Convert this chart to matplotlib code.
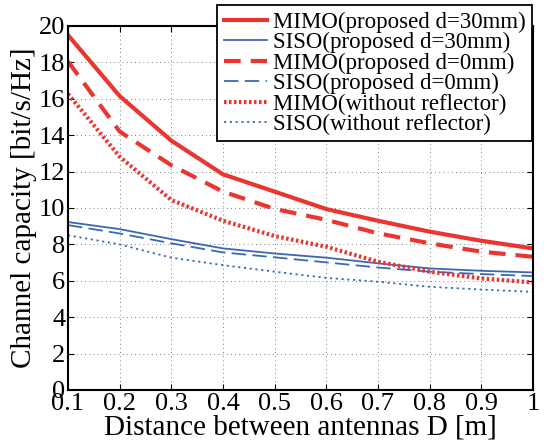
import matplotlib
matplotlib.use("Agg")
import matplotlib.pyplot as plt

plt.rcParams['font.family'] = ['Liberation Serif', 'DejaVu Serif']
plt.rcParams['mathtext.fontset'] = 'stix'

x = [0.1, 0.2, 0.3, 0.4, 0.5, 0.6, 0.7, 0.8, 0.9, 1.0]
mimo_30 = [19.5, 16.15, 13.7, 11.85, 10.9, 9.94, 9.3, 8.7, 8.2, 7.78]
siso_30 = [9.23, 8.84, 8.29, 7.78, 7.5, 7.27, 6.96, 6.68, 6.55, 6.46]
mimo_0 = [18.05, 14.2, 12.35, 10.9, 9.95, 9.35, 8.61, 8.06, 7.6, 7.32]
siso_0 = [9.06, 8.6, 8.06, 7.56, 7.29, 7.01, 6.73, 6.5, 6.37, 6.26]
mimo_wo = [16.27, 12.82, 10.44, 9.3, 8.46, 7.87, 7.05, 6.5, 6.13, 5.91]
siso_wo = [8.5, 8.0, 7.27, 6.86, 6.5, 6.16, 5.95, 5.67, 5.52, 5.39]

labels = ['MIMO(proposed d=30mm)', 'SISO(proposed d=30mm)',
          'MIMO(proposed d=0mm)', 'SISO(proposed d=0mm)',
          'MIMO(without reflector)', 'SISO(without reflector)']
xticks = [0.1, 0.2, 0.3, 0.4, 0.5, 0.6, 0.7, 0.8, 0.9, 1]
xticklabels = ['0.1', '0.2', '0.3', '0.4', '0.5', '0.6', '0.7', '0.8', '0.9', '1']
yticks = [0, 2, 4, 6, 8, 10, 12, 14, 16, 18, 20]
yticklabels = ['0', '2', '4', '6', '8', '10', '12', '14', '16', '18', '20']

red = '#ea3530'
blue = '#3a68b4'

fig = plt.figure(figsize=(5.47, 4.43), dpi=100)
ax = fig.add_axes([68/547, 53/443, 465/547, 364/443])

ax.plot(x, mimo_30, color=red, lw=3.0, ls='-', label=labels[0])
ax.plot(x, siso_30, color=blue, lw=1.3, ls='-', label=labels[1])
ax.plot(x, mimo_0, color=red, lw=3.0, ls=(0, (4, 2.4)), label=labels[2])
ax.plot(x, siso_0, color=blue, lw=1.3, ls=(0, (8, 3.5)), label=labels[3])
ax.plot(x, mimo_wo, color=red, lw=3.0, ls=(0, (0.6, 0.6)), label=labels[4])
ax.plot(x, siso_wo, color=blue, lw=1.3, ls=(0, (1.2, 2.0)), label=labels[5])

ax.set_xlim(0.1, 1.0)
ax.set_ylim(0, 20)
ax.set_xticks(xticks)
ax.set_xticklabels(xticklabels)
ax.set_yticks(yticks)
ax.set_yticklabels(yticklabels)
ax.tick_params(direction='in', labelsize=19, length=4, width=0.8, top=True, right=True, pad=2)
ax.grid(True, color='#555555', ls=(0, (1, 4)), lw=0.6)
for s in ax.spines.values():
    s.set_linewidth(1.5)

ax.set_xlabel('Distance between antennas D [m]', fontsize=21, labelpad=0)
ax.set_ylabel('Channel capacity [bit/s/Hz]', fontsize=21, labelpad=1)

leg = ax.legend(loc='upper right', bbox_to_anchor=(532/547, 1 - 5/443),
                bbox_transform=fig.transFigure, fontsize=16.5, frameon=True,
                fancybox=False, edgecolor='black', framealpha=1,
                borderaxespad=0, handlelength=1.9, handletextpad=0.25,
                labelspacing=-0.03, borderpad=0.28)
leg.get_frame().set_linewidth(1.3)

fig.savefig('out.png', dpi=100)
